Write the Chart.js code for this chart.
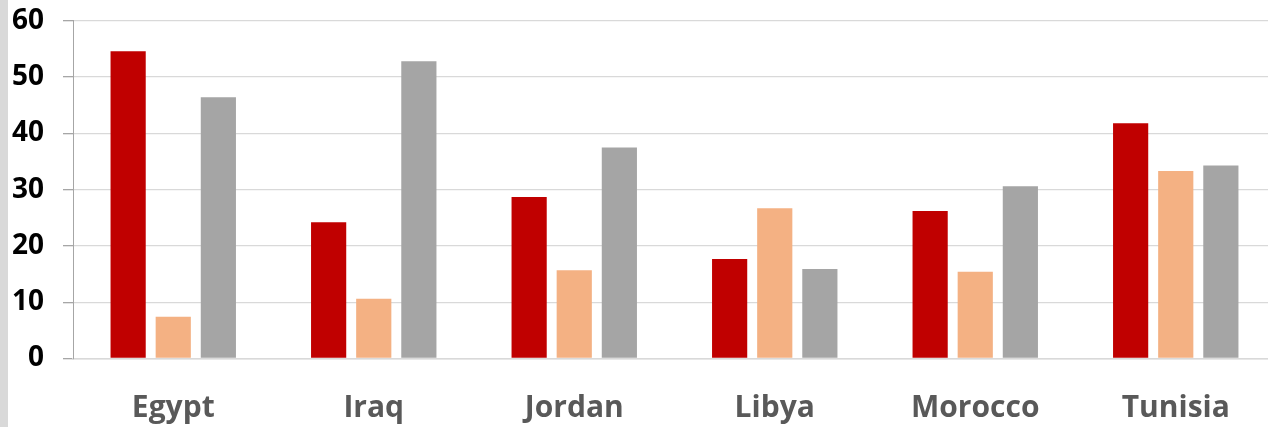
<!DOCTYPE html>
<html>
<head>
<meta charset="utf-8">
<script src="https://cdn.jsdelivr.net/npm/chart.js@4"></script>
<style>
    html, body { margin: 0; padding: 0; background: #fff; overflow: hidden; }
    #wrap { position: relative; top: -15px; width: 1276px; height: 442px; }
    #strip { position: absolute; left: 0; top: 0; width: 8px; height: 427px; background: #d9d9d9; z-index: 2; }
</style>
</head>
<body>
<div id="strip"></div>
<div id="wrap">
    <canvas id="bars"></canvas>
</div>
<script>
// Countries on the x axis
const countries = ['Egypt', 'Iraq', 'Jordan', 'Libya', 'Morocco', 'Tunisia'];

// Three series
const series1 = [54.6, 24.2, 28.7, 17.7, 26.2, 41.8];
const series2 = [7.4, 10.6, 15.7, 26.7, 15.4, 33.3];
const series3 = [46.4, 52.8, 37.5, 15.9, 30.6, 34.3];

// y axis ticks
const yTicks = [0, 10, 20, 30, 40, 50, 60];

const ctx = document.getElementById('bars');

new Chart(ctx, {
    type: 'bar',
    data: {
        labels: countries,
        datasets: [
            { label: 'Series 1', data: series1, backgroundColor: '#c00000' },
            { label: 'Series 2', data: series2, backgroundColor: '#f4b183' },
            { label: 'Series 3', data: series3, backgroundColor: '#a5a5a5' }
        ]
    },
    options: {
        responsive: true,
        maintainAspectRatio: false,
        animation: false,
        layout: { padding: { top: 5, right: 0, bottom: 0, left: 0 } },
        datasets: {
            bar: { categoryPercentage: 0.675, barPercentage: 0.78 }
        },
        plugins: {
            legend: { display: false },
            tooltip: { enabled: false }
        },
        scales: {
            x: {
                grid: { display: false, drawTicks: false },
                border: { color: '#d9d9d9', width: 1.5 },
                ticks: {
                    color: '#595959',
                    padding: 32,
                    font: { family: 'Open Sans', size: 30, weight: 'bold' }
                },
                afterFit: function (scale) { scale.height = 68.5; }
            },
            y: {
                min: 0,
                max: 60,
                afterBuildTicks: function (scale) {
                    scale.ticks = yTicks.map(v => ({ value: v }));
                },
                grid: { color: '#d9d9d9', lineWidth: 1.3, tickLength: 10, tickColor: '#a6a6a6' },
                border: { color: '#a6a6a6', width: 1 },
                ticks: {
                    color: '#000',
                    padding: 19,
                    font: { family: 'Open Sans', size: 28, weight: 'bold' }
                },
                afterFit: function (scale) { scale.width = 73; }
            }
        }
    }
});
</script>
</body>
</html>
